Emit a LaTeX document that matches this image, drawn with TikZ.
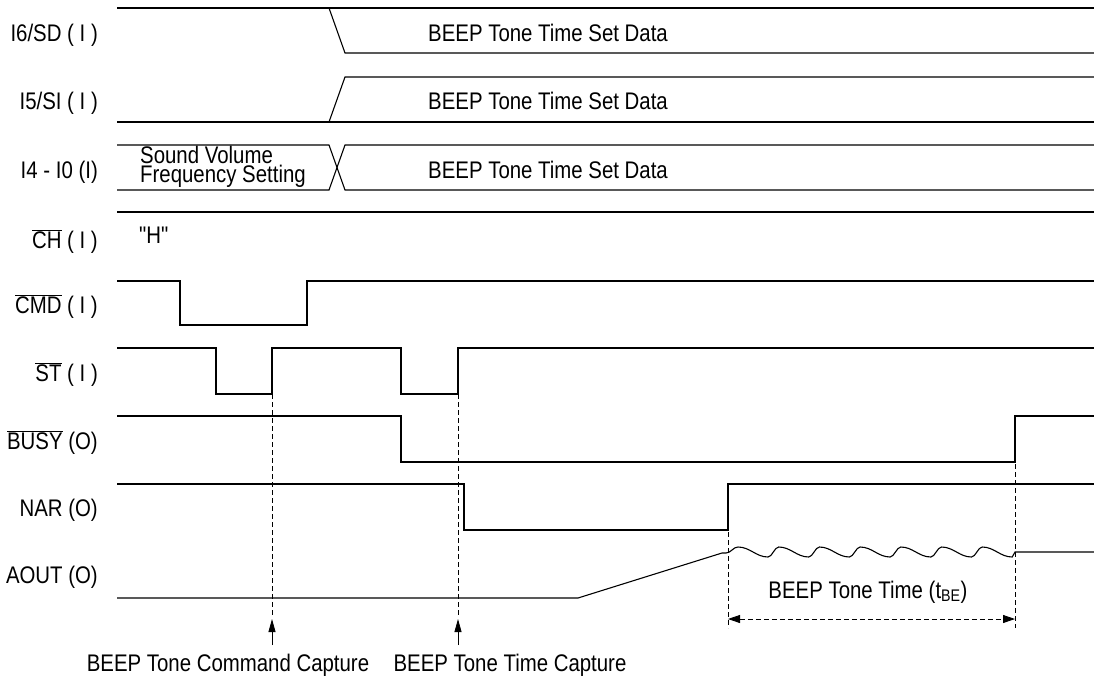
\documentclass[tikz,border=0pt]{standalone}
\usepackage{fontspec}
\setmainfont{Liberation Sans}[FakeStretch=0.85, Ligatures=TeXOff]
\usetikzlibrary{arrows.meta}
\begin{document}
\begin{tikzpicture}[x=1pt,y=-1pt,
  sig/.style={line width=1.1pt, line join=miter},
  guide/.style={line width=0.8pt, dash pattern=on 5pt off 3pt},
  tipup/.style={line width=0.8pt, -{Triangle[length=13pt,width=7pt]}},
  dimarrow/.style={line width=0.8pt, dash pattern=on 5pt off 3pt, {Triangle[length=12pt,width=8pt]}-{Triangle[length=12pt,width=8pt]}},
  txt/.style={inner sep=0pt, font=\fontsize{24}{18.5}\selectfont},
  lbl/.style={txt, anchor=base east},
  dat/.style={txt, anchor=base west}]
\useasboundingbox (0,0) rectangle (1094,678);

% ---- labels ----
\node[lbl] (l6) at (98,41) {I6/SD (~I~)};
\node[lbl] (l5) at (98,109) {I5/SI (~I~)};
\node[lbl] (l4) at (98,178) {I4 - I0 (I)};
\node[lbl] (lch) at (98,248) {$\overline{\hbox{CH}}$ (~I~)};
\node[lbl] (lcmd) at (98,313) {$\overline{\hbox{CMD}}$ (~I~)};
\node[lbl] (lst) at (98,381) {$\overline{\hbox{ST}}$ (~I~)};
\node[lbl] (lbusy) at (98,449) {$\overline{\hbox{BUSY}}$ (O)};
\node[lbl] (lnar) at (98,516) {NAR (O)};
\node[lbl] (laout) at (98,583) {AOUT (O)};

% ---- I6/SD ----
\draw[sig] (117,8) -- (1094,8);
\draw[sig] (329,8) -- (345,53) -- (1094,53);
\node[dat] (d6) at (428,41) {BEEP Tone Time Set Data};

% ---- I5/SI ----
\draw[sig] (117,122) -- (1094,122);
\draw[sig] (329,122) -- (345,77) -- (1094,77);
\node[dat] (d5) at (428,109) {BEEP Tone Time Set Data};

% ---- I4 - I0 ----
\draw[sig] (117,145) -- (329,145) -- (345,190) -- (1094,190);
\draw[sig] (117,190) -- (329,190) -- (345,145) -- (1094,145);
\node[txt, align=left, anchor=west] (svfs) at (140,167) {Sound Volume\\Frequency Setting};
\node[dat] (d4) at (428,178) {BEEP Tone Time Set Data};

% ---- CH ----
\draw[sig] (117,212) -- (1094,212);
\node[dat] (hh) at (139,243) {"H"};

% ---- CMD ----
\draw[sig] (117,281) -| (180,325) -| (307,281) -- (1094,281);

% ---- ST ----
\draw[sig] (117,348) -| (216,394) -| (272,348) -| (401,394) -| (458,348) -- (1094,348);

% ---- BUSY ----
\draw[sig] (117,416) -| (401,462) -| (1015,416) -- (1094,416);

% ---- NAR ----
\draw[sig] (117,484) -| (464,530) -| (728,484) -- (1094,484);

% ---- AOUT ----
\draw[sig] (117,598) -- (578,598) -- (722,553) -- (726,553)
  .. controls (731,553) and (733,547) .. (738,547)
  \foreach \i in {0,...,5} {
    .. controls +(12,0) and +(-12,0) .. ++(30,10)
    .. controls +(4,0) and +(-4,0) .. ++(10.7,-10)
  }
  .. controls +(12,0) and +(-12,0) .. ++(30,10)
  -- (1015,552) -- (1094,552);

% ---- guide lines ----
\coordinate (g1a) at (272,394); \coordinate (g1b) at (272,615);
\coordinate (g2a) at (458,394); \coordinate (g2b) at (458,615);
\coordinate (g3a) at (728,484); \coordinate (g3b) at (728,628);
\coordinate (g4a) at (1015,416); \coordinate (g4b) at (1015,628);
\draw[guide] (g1a) -- (g1b);
\draw[guide] (g2a) -- (g2b);
\draw[guide] (g3a) -- (g3b);
\draw[guide] (g4a) -- (g4b);

% ---- capture arrows ----
\coordinate (a1t) at (272,619); \coordinate (a1b) at (272,645);
\coordinate (a2t) at (458,619); \coordinate (a2b) at (458,645);
\draw[tipup] (a1b) -- (a1t);
\draw[tipup] (a2b) -- (a2t);
\node[txt, anchor=base] (cap1) at (228,671) {BEEP Tone Command Capture};
\node[txt, anchor=base] (cap2) at (510,671) {BEEP Tone Time Capture};

% ---- tone time dimension ----
\coordinate (t1) at (728,619); \coordinate (t2) at (1015,619);
\draw[dimarrow] (t1) -- (t2);
\node[txt, anchor=base] (tbe) at (868,598) {BEEP Tone Time (t\textsubscript{BE})};
\end{tikzpicture}
\end{document}
